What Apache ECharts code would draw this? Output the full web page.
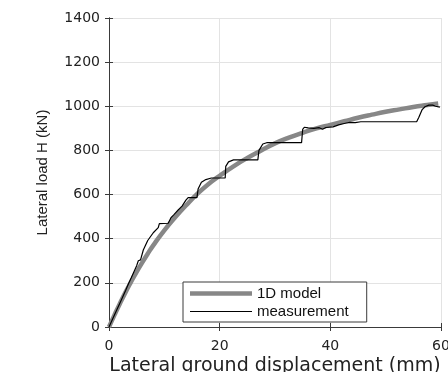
<!DOCTYPE html>
<html>
<head>
<meta charset="utf-8">
<script src="https://cdn.jsdelivr.net/npm/echarts@6/dist/echarts.min.js"></script>
<style>
  html, body { margin: 0; padding: 0; background: #fff; }
  #chart { width: 448px; height: 372px; }
</style>
</head>
<body>
<div id="chart"></div>
<script>
// 1D model curve, [displacement mm, load kN]
const modelCurve = [
  [0, 0], [1, 55], [2, 108], [3, 158], [4, 205], [5, 250], [6, 292], [7, 332],
  [8, 370], [10, 438], [12, 498], [14, 553], [16, 604], [18, 648], [20, 685],
  [22.5, 728], [25, 766], [27.5, 800], [30, 832], [32.5, 858], [35, 880],
  [37.5, 900], [40, 916], [42.5, 932], [45, 948], [47.5, 962], [50, 975],
  [52.5, 986], [55, 997], [57.5, 1006], [59.5, 1013]
];

// measured load-displacement record
const measurement = [
  [0, 0], [1, 55], [2, 110], [3, 165], [3.5, 195], [4, 222], [5, 278], [5.3, 300],
  [5.7, 304], [6.2, 349], [7, 392], [8, 427], [8.9, 450], [9.1, 468], [10.7, 470],
  [11.2, 495], [11.7, 508], [12.5, 530], [13.2, 548], [13.9, 575], [14.3, 586],
  [15.9, 586], [16.1, 625], [16.7, 656], [17.5, 668], [18.5, 675], [21, 675],
  [21.1, 728], [21.6, 748], [22.5, 757], [26.9, 757], [27.1, 800], [27.8, 829],
  [28.5, 835], [34.8, 835], [35, 895], [35.3, 905], [36, 902], [37, 900],
  [38, 903], [38.6, 896], [38.9, 893], [39.2, 904], [40.5, 907], [41.5, 916],
  [42.5, 922], [43.5, 927], [44.5, 926], [45.5, 930], [55.6, 930], [56, 950],
  [56.6, 985], [57.1, 998], [57.8, 1005], [58.5, 1005], [59, 1000], [59.8, 996]
];

const xTicks = [0, 20, 40, 60];
const yTicks = [0, 200, 400, 600, 800, 1000, 1200, 1400];

const axisColor = "#3a3a3a";
const font = "Liberation Sans";
const wideFont = "DejaVu Sans";

const chart = echarts.init(document.getElementById("chart"), null, { renderer: "canvas" });

const boxAxis = {
  axisLine: { show: true, lineStyle: { color: axisColor, width: 1 } },
  axisTick: { show: true, inside: true, length: 4, lineStyle: { color: axisColor } },
  axisLabel: { show: false },
  splitLine: { show: false }
};

chart.setOption({
  animation: false,
  grid: { left: 109, right: 7, top: 18, bottom: 45, containLabel: false, outerBoundsMode: "none" },
  legend: {
    orient: "vertical",
    left: 183,
    top: 282,
    padding: [4, 18, 3, 7],
    itemGap: 3,
    itemWidth: 62,
    itemHeight: 14,
    symbolKeepAspect: true,
    backgroundColor: "#fff",
    borderColor: axisColor,
    borderWidth: 1,
    borderRadius: 0,
    textStyle: { fontFamily: font, fontSize: 15, color: "#111" },
    data: [
      { name: "1D model", icon: "path://M0,0H62V4.5H0Z", itemStyle: { color: "#878787" } },
      { name: "measurement", icon: "path://M0,0H62V1.2H0Z", itemStyle: { color: "#000" } }
    ]
  },
  xAxis: [
    {
      type: "value",
      min: 0,
      max: 60,
      interval: 20,
      name: "Lateral ground displacement (mm)",
      nameLocation: "middle",
      nameGap: 30,
      nameMoveOverlap: false,
      nameTextStyle: { fontFamily: wideFont, fontSize: 19, color: "#222" },
      axisLine: { show: true, onZero: false, lineStyle: { color: axisColor } },
      axisTick: { show: true, inside: true, length: 4, lineStyle: { color: axisColor } },
      axisLabel: {
        fontFamily: wideFont, fontSize: 14, color: "#222", margin: 12,
        formatter: (v) => (xTicks.includes(v) ? String(v) : "")
      },
      splitLine: { show: true, lineStyle: { color: "#e3e3e3", width: 1 } }
    },
    Object.assign({ type: "value", min: 0, max: 60, interval: 20, position: "top" }, boxAxis)
  ],
  yAxis: [
    {
      type: "value",
      min: 0,
      max: 1400,
      interval: 200,
      name: "Lateral load H (kN)",
      nameLocation: "middle",
      nameGap: 59,
      nameRotate: 90,
      nameMoveOverlap: false,
      nameTextStyle: { fontFamily: font, fontSize: 15, color: "#222" },
      axisLine: { show: true, onZero: false, lineStyle: { color: axisColor } },
      axisTick: { show: true, inside: true, length: 4, lineStyle: { color: axisColor } },
      axisLabel: {
        fontFamily: wideFont, fontSize: 14, color: "#222", margin: 9,
        formatter: (v) => (yTicks.includes(v) ? String(v) : "")
      },
      splitLine: { show: true, lineStyle: { color: "#e3e3e3", width: 1 } }
    },
    Object.assign({ type: "value", min: 0, max: 1400, interval: 200, position: "right" }, boxAxis)
  ],
  series: [
    {
      name: "1D model",
      type: "line",
      smooth: true,
      showSymbol: false,
      symbol: "none",
      data: modelCurve,
      lineStyle: { color: "#878787", width: 4.5 },
      itemStyle: { color: "#878787" },
      z: 2
    },
    {
      name: "measurement",
      type: "line",
      showSymbol: false,
      symbol: "none",
      data: measurement,
      lineStyle: { color: "#000", width: 1.2 },
      itemStyle: { color: "#000" },
      z: 3
    }
  ]
});
</script>
</body>
</html>
